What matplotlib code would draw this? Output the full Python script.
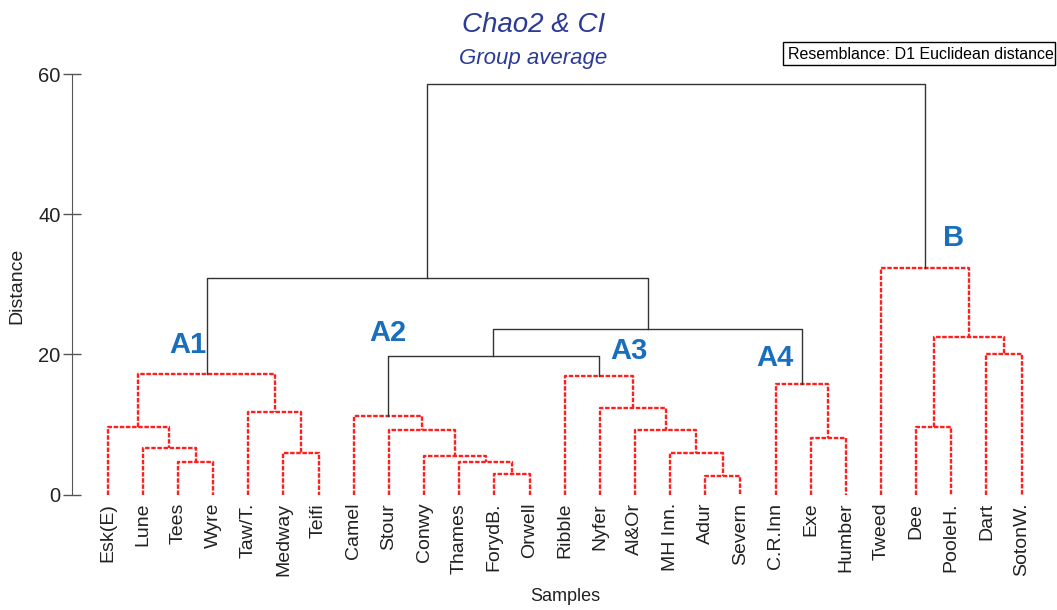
import matplotlib
matplotlib.use("Agg")
import matplotlib.pyplot as plt
from matplotlib.patches import Rectangle

plt.rcParams['font.family'] = ['Liberation Sans', 'DejaVu Sans']

# leaves, left to right
leaf_labels = ["Esk(E)", "Lune", "Tees", "Wyre", "Taw/T.", "Medway", "Teifi",
               "Camel", "Stour", "Conwy", "Thames", "ForydB.", "Orwell",
               "Ribble", "Nyfer", "Al&Or", "MH Inn.", "Adur", "Severn",
               "C.R.Inn", "Exe", "Humber",
               "Tweed", "Dee", "PooleH.", "Dart", "SotonW."]

# merges, scipy-linkage style: new node ids start at len(leaf_labels)
merge_left = [2, 1, 0, 5, 4, 29,
              11, 10, 9, 8, 7,
              17, 16, 15, 14, 13, 37,
              20, 19, 43, 32,
              23, 25, 48, 22, 47]
merge_right = [3, 27, 28, 6, 30, 31,
               12, 33, 34, 35, 36,
               18, 38, 39, 40, 41, 42,
               21, 44, 45, 46,
               24, 26, 49, 50, 51]
merge_height = [4.64, 6.69, 9.6, 5.97, 11.74, 17.26,
                2.93, 4.64, 5.5, 9.17, 11.26,
                2.69, 5.89, 9.21, 12.4, 16.93, 19.74,
                8.11, 15.79, 23.6, 30.93,
                9.69, 20.11, 22.5, 32.31, 58.6]

# clusters: name -> node id of the cluster top
group_names = ["A1", "A2", "A3", "A4", "B"]
group_nodes = [32, 37, 42, 45, 51]

n = len(leaf_labels)
xpos = {i: float(i) for i in range(n)}
ypos = {i: 0.0 for i in range(n)}
for k, (a, b, h) in enumerate(zip(merge_left, merge_right, merge_height)):
    xpos[n + k] = (xpos[a] + xpos[b]) / 2
    ypos[n + k] = h

# every node below a cluster top is drawn red
in_group = set()
def mark(node):
    in_group.add(node)
    if node >= n:
        mark(merge_left[node - n])
        mark(merge_right[node - n])
for g in group_nodes:
    mark(g)

fig = plt.figure(figsize=(10.57, 6.10), dpi=100)
ax = fig.add_axes([71.5 / 1057, (610 - 494.5) / 610, (1050 - 71.5) / 1057, (494.5 - 74.3) / 610])

for k, (a, b, h) in enumerate(zip(merge_left, merge_right, merge_height)):
    xs = [xpos[a], xpos[a], xpos[b], xpos[b]]
    ys = [ypos[a], h, h, ypos[b]]
    if (n + k) in in_group:
        ax.plot(xs, ys, color='#ff1f1f', lw=1.7, dashes=(1.9, 0.7),
                solid_joinstyle='miter')
    else:
        ax.plot(xs, ys, color='#333333', lw=1.0)

# cluster labels
label_spots = {"A1": (2.8125, 20.17, 'right'), "A2": (7.97, 21.9, 'center'),
               "A3": (14.29, 19.3, 'left'), "A4": (18.44, 18.4, 'left'),
               "B": (23.75, 35.5, 'left')}
for name in group_names:
    x, y, ha = label_spots[name]
    ax.text(x, y, name, color='#1a6fbd', fontsize=21, fontweight='bold',
            ha=ha, va='baseline')

ax.set_xlim((71.5 - 107.7) / 35.15, (1050 - 107.7) / 35.15)
ax.set_ylim(0, 60)
ax.set_xticks(range(n))
ax.set_xticklabels(leaf_labels, rotation=90, fontsize=14, color='#222222')
ax.tick_params(axis='x', length=0, pad=6)
ax.set_yticks([0, 20, 40, 60])
ax.tick_params(axis='y', direction='inout', length=13, width=1,
               color='#555555', labelsize=14.5, labelcolor='#222222', pad=1.5)
for side in ['top', 'right', 'bottom']:
    ax.spines[side].set_visible(False)
ax.spines['left'].set_bounds(0, 60)
ax.spines['left'].set_color('#555555')

ax.set_xlabel("Samples", fontsize=13, color='#222222')
ax.xaxis.set_label_coords(0.505, -0.223)
ax.set_ylabel("Distance", fontsize=14, color='#222222')
ax.yaxis.set_label_coords(-0.0475, 0.496)

fig.text(534 / 1057, 1 - 31.7 / 610, "Chao2 & CI", fontsize=20, style='italic',
         color='#2b3a96', ha='center', va='baseline')
fig.text(533 / 1057, 1 - 64 / 610, "Group average", fontsize=16, style='italic',
         color='#2b3a96', ha='center', va='baseline')

fig.add_artist(Rectangle((783 / 1057, 1 - 65 / 610), 272 / 1057, 23 / 610,
                         transform=fig.transFigure, fill=False, lw=1, ec='black'))
fig.text(788 / 1057, 1 - 59 / 610, "Resemblance: D1 Euclidean distance",
         fontsize=11.5, color='black', ha='left', va='baseline')

fig.savefig("out.png", dpi=100)
